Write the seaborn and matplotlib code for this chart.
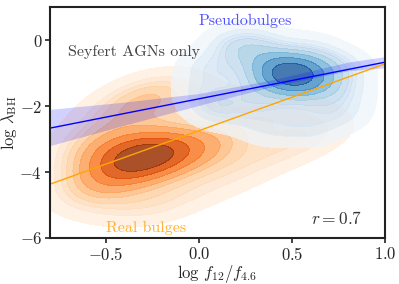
import numpy as np
import pandas as pd
import seaborn as sns
import matplotlib.pyplot as plt

# hand-read point clouds for the two populations
real_x = [-0.35, -0.30, -0.25, -0.40, -0.28, -0.33, -0.20, -0.42,
          -0.45, -0.15, -0.30, -0.25,
          -0.55, -0.50, -0.58, -0.45, -0.35, -0.20, -0.10, -0.05, 0.05, 0.00,
          -0.15, -0.35, -0.50,
          -0.62, -0.62, -0.52, -0.35, -0.20, -0.05, 0.15, 0.30, 0.45, 0.58,
          0.65, 0.20, 0.35, 0.50, 0.15, -0.10, -0.30, -0.48, -0.20, 0.10, -0.62,
          -0.40, -0.30, -0.18]
real_y = [-3.6, -3.45, -3.55, -3.5, -3.3, -3.75, -3.4, -3.8,
          -3.3, -3.6, -3.9, -3.2,
          -3.4, -4.0, -4.3, -4.4, -4.2, -4.0, -3.7, -3.2, -3.5, -2.9,
          -3.0, -2.9, -2.8,
          -3.8, -4.6, -4.95, -5.1, -5.0, -4.6, -4.2, -3.7, -3.3, -3.0,
          -2.6, -2.8, -2.3, -2.1, -1.9, -1.7, -1.9, -2.3, -2.4, -3.3, -3.1,
          -2.0, -1.6, -1.35]

pseudo_x = [0.50, 0.45, 0.55, 0.50, 0.42, 0.58, 0.48, 0.60, 0.35, 0.65,
            0.52, 0.47, 0.40, 0.56,
            0.30, 0.70, 0.20, 0.78, 0.10, 0.15, 0.30, 0.50, 0.70, 0.80,
            0.00, 0.10, 0.35, 0.40, 0.60, 0.25, 0.78, 0.02, 0.35, 0.55,
            0.05, 0.60, 0.78, 0.30, 0.15]
pseudo_y = [-1.0, -0.9, -1.1, -0.8, -1.2, -0.9, -1.3, -1.2, -0.7, -0.6,
            -1.05, -0.95, -1.0, -1.25,
            -1.4, -1.5, -0.5, -0.7, -1.0, -1.8, -2.2, -2.5, -2.3, -1.6,
            -1.5, -2.3, -2.8, -0.3, -0.2, -0.2, -1.0, -0.8, -1.8, -1.8,
            -2.0, -2.8, -2.2, 0.1, -0.1]

# fitted lines
line_x = [-0.8, 1.0]
pseudo_fit = [-2.67, -0.67]
real_fit = [-4.37, -0.72]

# confidence band of the pseudobulge fit
band_x = [-0.8, -0.4, 0.0, 0.4, 0.8, 1.0]
band_lo = [-3.20, -2.58, -1.98, -1.40, -0.93, -0.84]
band_hi = [-2.10, -1.88, -1.62, -1.20, -0.67, -0.50]

sns.set_style('ticks')
plt.rcParams['font.family'] = 'serif'
plt.rcParams['font.serif'] = ['cmr10']
plt.rcParams['mathtext.fontset'] = 'cm'
plt.rcParams['axes.formatter.use_mathtext'] = True
plt.rcParams['axes.unicode_minus'] = True

fig = plt.figure(figsize=(3.99, 2.84), dpi=100)
ax = fig.add_axes([0.125, 0.162, 0.84, 0.813])

sns.kdeplot(x=real_x, y=real_y, fill=True, cmap='Oranges', levels=10,
            thresh=0.05, alpha=0.85, bw_adjust=0.95, ax=ax)
sns.kdeplot(x=pseudo_x, y=pseudo_y, fill=True, cmap='Blues', levels=10,
            thresh=0.05, alpha=0.75, bw_adjust=0.95, ax=ax)

ax.fill_between(band_x, band_lo, band_hi, color='blue', alpha=0.18, lw=0)
ax.plot(line_x, pseudo_fit, color='blue', lw=1)
ax.plot(line_x, real_fit, color='orange', lw=1)

ax.text(-0.70, -0.37, 'Seyfert AGNs only', fontsize=11.5, color='#444444', va='center')
ax.text(0.0, 0.58, 'Pseudobulges', fontsize=11.5, color='#5050ff', va='center')
ax.text(-0.5, -5.68, 'Real bulges', fontsize=11.5, color='#ffb030', va='center')
ax.text(0.6, -5.4, r'$r=0.7$', fontsize=12.5, color='#333333', va='center')

ax.set_xlim(-0.8, 1.0)
ax.set_ylim(-6, 1)
ax.set_xticks([-0.5, 0.0, 0.5, 1.0])
ax.set_yticks([-6, -4, -2, 0])
ax.set_xlabel(r'$\log\,f_{12}/f_{4.6}$', fontsize=12, labelpad=0)
ax.set_ylabel(r'$\log\,\lambda_{\rm BH}$', fontsize=12, labelpad=0)
ax.tick_params(labelsize=12, direction='out', length=3.5, width=1.2,
               pad=2, color='#222222')
for s in ax.spines.values():
    s.set_color('#222222')
    s.set_linewidth(1.5)

fig.savefig('out.png', dpi=100)
